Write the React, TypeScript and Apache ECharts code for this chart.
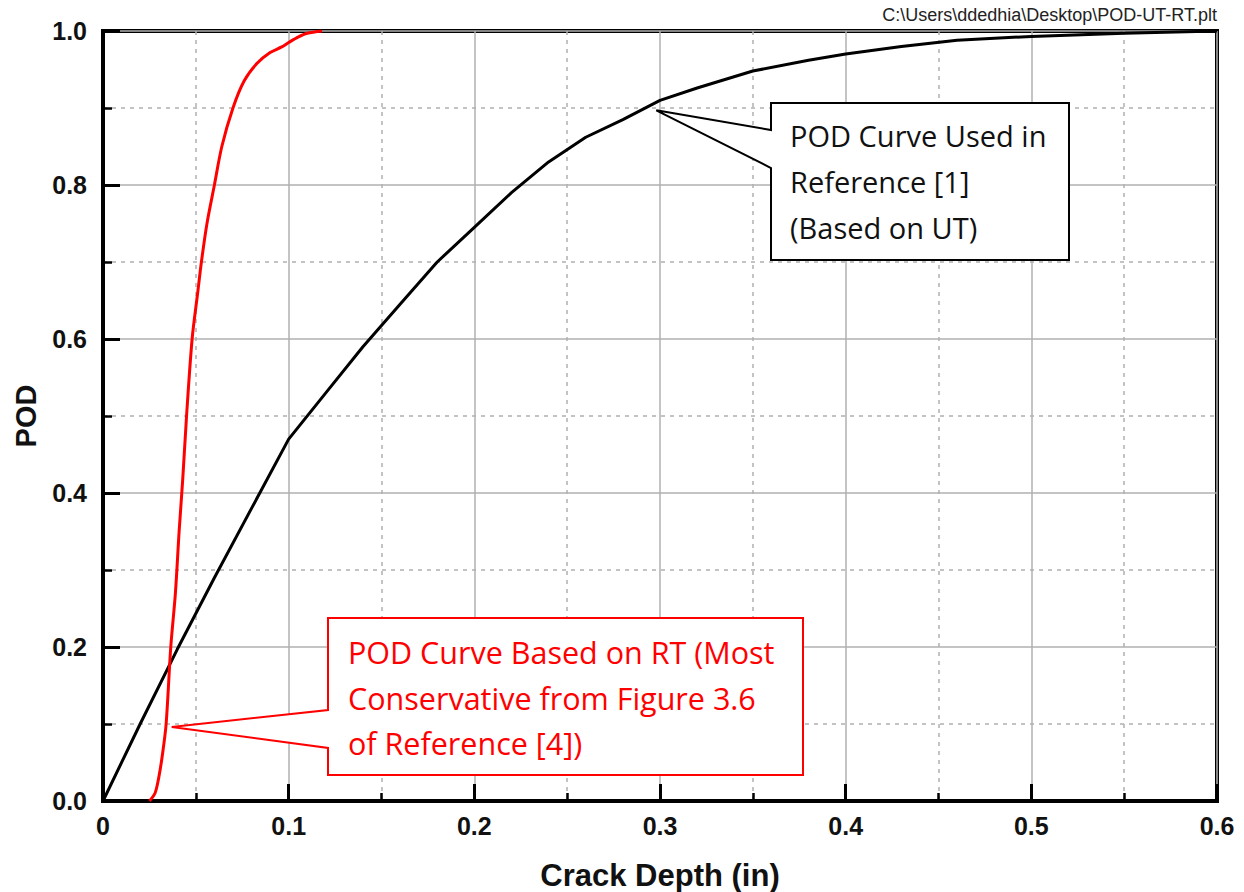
import React, { useEffect, useRef } from "react";
import * as echarts from "echarts";

// UT-based POD curve (Reference [1])
const utDepth = [0, 0.02, 0.04, 0.06, 0.08, 0.1, 0.12, 0.14, 0.16, 0.18, 0.2, 0.22, 0.24, 0.26, 0.28, 0.3, 0.32, 0.35, 0.38, 0.4, 0.43, 0.46, 0.5, 0.55, 0.6];
const utPod = [0, 0.1, 0.197, 0.29, 0.38, 0.47, 0.53, 0.59, 0.645, 0.70, 0.745, 0.79, 0.83, 0.862, 0.885, 0.91, 0.926, 0.948, 0.962, 0.97, 0.98, 0.988, 0.993, 0.997, 1.0];

// RT-based POD curve (Reference [4])
const rtDepth = [0.025, 0.028, 0.03, 0.032, 0.034, 0.0365, 0.039, 0.041, 0.043, 0.045, 0.048, 0.051, 0.053, 0.056, 0.06, 0.064, 0.07, 0.076, 0.083, 0.09, 0.096, 0.1, 0.105, 0.11, 0.118];
const rtPod = [0, 0.01, 0.03, 0.06, 0.1, 0.2, 0.27, 0.35, 0.42, 0.5, 0.6, 0.66, 0.7, 0.75, 0.8, 0.85, 0.9, 0.935, 0.958, 0.972, 0.979, 0.985, 0.992, 0.997, 1.0];

const utLabel = ["POD Curve Used in", "Reference [1]", "(Based on UT)"];
const rtLabel = ["POD Curve Based on RT (Most", "Conservative from Figure 3.6", "of Reference [4])"];
const filePath = "C:\\Users\\ddedhia\\Desktop\\POD-UT-RT.plt";

const utTip = [0.298, 0.897];
const rtTip = [0.037, 0.096];

export default function App() {
  const ref = useRef<HTMLDivElement>(null);
  useEffect(() => {
    document.body.style.margin = "0";
    const chart = echarts.init(ref.current!, null, { renderer: "svg" });
    const tickFont = { fontFamily: "Liberation Sans", fontWeight: "bold" as const, fontSize: 25, color: "#111" };
    chart.setOption({
      animation: false,
      backgroundColor: "#fff",
      grid: {
        left: 103, right: 27, top: 31, bottom: 91, outerBoundsMode: "none", containLabel: false,
        show: true, borderColor: "#000", borderWidth: 4, backgroundColor: "transparent",
      },
      xAxis: {
        type: "value", min: 0, max: 0.6, interval: 0.1,
        name: "Crack Depth (in)", nameLocation: "middle", nameGap: 59,
        nameTextStyle: { fontFamily: "Liberation Sans", fontWeight: "bold", fontSize: 31, color: "#111" },
        axisLine: { show: true, lineStyle: { color: "#000", width: 4 } },
        axisTick: { show: true, inside: true, length: 17, lineStyle: { color: "#000", width: 3 } },
        minorTick: { show: true, splitNumber: 2, length: 8, lineStyle: { color: "#000", width: 2.5 } },
        splitLine: { show: true, lineStyle: { color: "#b0b0b0", width: 1.5 } },
        minorSplitLine: { show: true, lineStyle: { color: "#b0b0b0", width: 1.5, type: [4, 5] } },
        axisLabel: { ...tickFont, margin: 12, formatter: (v: number) => (v === 0 ? "0" : v.toFixed(1)) },
      },
      yAxis: {
        type: "value", min: 0, max: 1, interval: 0.2,
        name: "POD", nameLocation: "middle", nameGap: 63,
        nameTextStyle: { fontFamily: "Liberation Sans", fontWeight: "bold", fontSize: 29, color: "#111" },
        axisLine: { show: true, lineStyle: { color: "#000", width: 4 } },
        axisTick: { show: true, inside: true, length: 17, lineStyle: { color: "#000", width: 3 } },
        minorTick: { show: true, splitNumber: 2, length: 9, lineStyle: { color: "#000", width: 2.5 } },
        splitLine: { show: true, lineStyle: { color: "#b0b0b0", width: 1.5 } },
        minorSplitLine: { show: true, lineStyle: { color: "#b0b0b0", width: 1.5, type: [4, 5] } },
        axisLabel: { ...tickFont, margin: 16, formatter: (v: number) => v.toFixed(1) },
      },
      series: [
        {
          type: "line", name: "UT", showSymbol: false, smooth: false,
          data: utDepth.map((d, i) => [d, utPod[i]]),
          lineStyle: { color: "#000", width: 3 }, z: 3,
        },
        {
          type: "line", name: "RT", showSymbol: false, smooth: 0.3,
          data: rtDepth.map((d, i) => [d, rtPod[i]]),
          lineStyle: { color: "#ff0000", width: 3 }, z: 4,
        },
      ],
    });

    const ut = chart.convertToPixel({ gridIndex: 0 }, utTip) as number[];
    const rt = chart.convertToPixel({ gridIndex: 0 }, rtTip) as number[];

    const bL = 771, bR = 1069, bT = 103, bB = 260;
    const rL = 328, rR = 803, rT = 618, rB = 775;

    chart.setOption({
      graphic: [
        {
          type: "polygon", z: 100,
          shape: { points: [[bL, bT], [bR, bT], [bR, bB], [bL, bB], [bL, 168], ut, [bL, 130]] },
          style: { fill: "#fff", stroke: "#000", lineWidth: 2 },
        },
        ...utLabel.map((t, i) => ({
          type: "text", z: 101, x: 790, y: 135 + i * 46,
          style: { fontFamily: "Open Sans", fontSize: 29, fill: "#111", text: t, textVerticalAlign: "middle" },
        })),
        {
          type: "polygon", z: 100,
          shape: { points: [[rL, rT], [rR, rT], [rR, rB], [rL, rB], [rL, 748], rt, [rL, 710]] },
          style: { fill: "#fff", stroke: "#ff0000", lineWidth: 2 },
        },
        ...rtLabel.map((t, i) => ({
          type: "text", z: 101, x: 348, y: 652 + i * 45.5,
          style: { fontFamily: "Open Sans", fontSize: 30.5, fill: "#ff0000", text: t, textVerticalAlign: "middle" },
        })),
        {
          type: "text", z: 101, right: 27, top: 6,
          style: { text: filePath, fontFamily: "Liberation Sans", fontSize: 18, fill: "#222" },
        },
      ],
    });
    return () => chart.dispose();
  }, []);
  return <div ref={ref} style={{ width: 1244, height: 892 }} />;
}
